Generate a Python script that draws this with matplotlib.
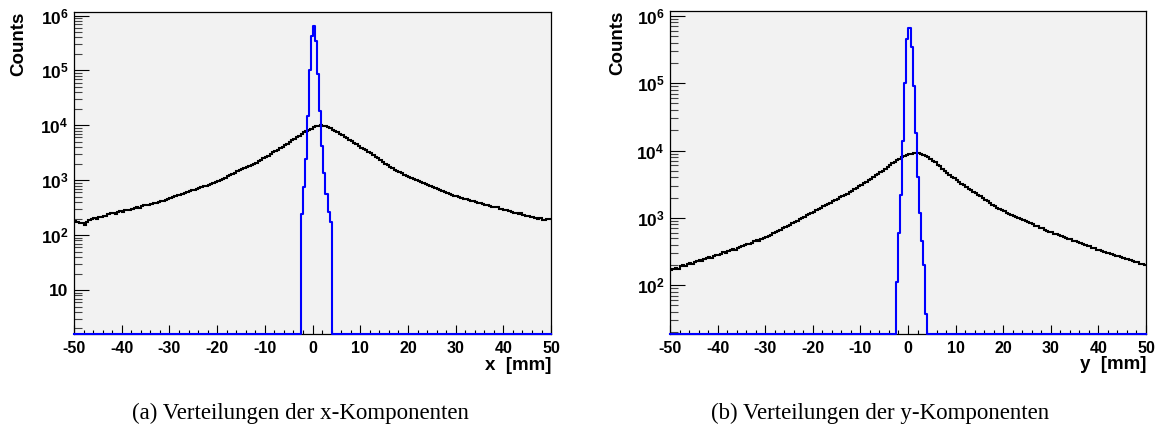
import numpy as np
import matplotlib
matplotlib.use('Agg')
import matplotlib.pyplot as plt
from matplotlib.ticker import FixedLocator, FixedFormatter, MultipleLocator, NullFormatter

plt.rcParams['font.family'] = ['Liberation Sans', 'DejaVu Sans']
plt.rcParams['font.weight'] = 'bold'
plt.rcParams['axes.unicode_minus'] = False
plt.rcParams['mathtext.fontset'] = 'custom'
plt.rcParams['mathtext.bf'] = 'Liberation Sans:bold'
plt.rcParams['mathtext.rm'] = 'Liberation Sans:bold'

# breite Verteilung (0.5 mm Bins, -50 ... 50 mm)
x_breit = [
    178, 172, 168, 163, 152, 170, 188, 196, 204, 200,
    212, 218, 226, 222, 240, 248, 252, 246, 262, 270,
    268, 282, 290, 286, 300, 312, 320, 318, 338, 350,
    356, 348, 372, 380, 392, 398, 410, 422, 440, 455,
    475, 490, 512, 530, 548, 560, 585, 600, 625, 650,
    675, 690, 725, 740, 775, 795, 830, 860, 905, 940,
    975, 1020, 1065, 1120, 1180, 1240, 1310, 1380, 1450, 1510,
    1580, 1650, 1730, 1810, 1900, 2000, 2100, 2220, 2350, 2500,
    2650, 2820, 3000, 3200, 3400, 3620, 3850, 4100, 4350, 4650,
    4950, 5300, 5700, 6100, 6500, 6950, 7400, 7850, 8300, 8750,
    9200, 9550, 9850, 9950, 9900, 9750, 9300, 8800, 8300, 7900,
    7500, 7050, 6600, 6200, 5800, 5500, 5200, 4850, 4500, 4200,
    3900, 3700, 3500, 3300, 3150, 2900, 2700, 2500, 2300, 2150,
    2000, 1870, 1750, 1650, 1550, 1470, 1400, 1330, 1270, 1210,
    1160, 1110, 1060, 1010, 970, 930, 890, 855, 820, 785,
    750, 720, 690, 660, 630, 600, 580, 565, 545, 525,
    510, 495, 480, 460, 450, 440, 425, 410, 400, 390,
    380, 370, 360, 352, 345, 330, 322, 332, 305, 300,
    290, 282, 270, 265, 258, 250, 238, 248, 232, 225,
    220, 214, 210, 205, 196, 208, 192, 188, 200, 195,
]
y_breit = [
    168, 176, 183, 175, 190, 197, 192, 205, 212, 206,
    220, 226, 233, 227, 243, 250, 259, 253, 270, 278,
    285, 293, 306, 299, 318, 331, 342, 336, 362, 372,
    383, 396, 410, 403, 430, 446, 462, 455, 488, 505,
    520, 546, 565, 588, 612, 640, 668, 700, 730, 762,
    790, 830, 870, 910, 955, 1000, 1045, 1090, 1140, 1190,
    1240, 1290, 1350, 1410, 1480, 1550, 1620, 1690, 1760, 1840,
    1920, 2010, 2100, 2200, 2300, 2420, 2540, 2660, 2790, 2930,
    3080, 3260, 3440, 3630, 3830, 4040, 4260, 4500, 4760, 5040,
    5350, 5700, 6050, 6450, 6850, 7200, 7600, 7950, 8300, 8600,
    8800, 9000, 9150, 9200, 9150, 8950, 8650, 8300, 7900, 7500,
    7050, 6650, 6200, 5800, 5400, 5000, 4650, 4350, 4080, 3850,
    3620, 3420, 3220, 3030, 2860, 2700, 2560, 2430, 2310, 2200,
    2090, 1975, 1865, 1760, 1665, 1575, 1495, 1420, 1355, 1300,
    1250, 1200, 1150, 1115, 1070, 1030, 995, 950, 925, 890,
    865, 830, 805, 770, 750, 715, 695, 665, 645, 620,
    610, 585, 572, 552, 545, 518, 505, 488, 480, 458,
    452, 438, 428, 408, 402, 383, 378, 360, 353, 336,
    332, 320, 315, 302, 298, 287, 282, 270, 270, 258,
    256, 246, 242, 233, 230, 220, 218, 207, 207, 198,
]
# schmale Verteilung (15 Bins zwischen -2.5 und 4.0 mm)
x_schmal = [240, 740, 2400, 14500, 1.0e5, 4.3e5, 6.5e5, 3.4e5, 8.7e4, 1.8e4,
            4200, 1350, 560, 265, 175]
y_schmal = [110, 600, 2200, 14000, 1.0e5, 4.5e5, 6.5e5, 3.5e5, 9.0e4, 1.8e4,
            4000, 1200, 450, 200, 37]

fig = plt.figure(figsize=(11.57, 4.36), dpi=100)

panels = [
    dict(pos=[0.0640, 0.2335, 0.4123, 0.7400], breit=x_breit, schmal=x_schmal,
         ylim=(1.57, 1.18e6), dekaden=[1, 2, 3, 4, 5, 6], xlab='x  [mm]',
         ylab_x=-0.098, caption='(a) Verteilungen der x-Komponenten', cap_x=0.260),
    dict(pos=[0.5791, 0.2345, 0.4114, 0.7408], breit=y_breit, schmal=y_schmal,
         ylim=(19, 1.19e6), dekaden=[2, 3, 4, 5, 6], xlab='y  [mm]',
         ylab_x=-0.092, caption='(b) Verteilungen der y-Komponenten', cap_x=0.761),
]

for p in panels:
    ax = fig.add_axes(p['pos'])
    ax.set_facecolor('#f2f2f2')
    ax.set_yscale('log')
    ax.set_xlim(-50, 50)
    ax.set_ylim(*p['ylim'])
    ymin = p['ylim'][0]

    kanten = np.linspace(-50, 50, len(p['breit']) + 1)
    ax.stairs(p['breit'], kanten, color='black', lw=1.5, baseline=None, zorder=3)

    sk = np.linspace(-2.5, 4.0, len(p['schmal']) + 1)
    xs = np.concatenate([[-50], sk, [50]])
    ys = np.concatenate([[ymin], p['schmal'], [ymin, ymin]])
    ax.step(xs, ys, where='post', color='#0000ff', lw=1.5, zorder=4, clip_on=False)

    # Achsen
    for s in ax.spines.values():
        s.set_linewidth(0.9)
        s.set_color('black')
    ax.xaxis.set_major_locator(MultipleLocator(10))
    ax.xaxis.set_minor_locator(MultipleLocator(2))
    ax.tick_params(axis='x', which='major', direction='in', length=6.3, width=0.8,
                   labelsize=11.5, pad=5, top=False)
    ax.tick_params(axis='x', which='minor', direction='in', length=3.1, width=0.8,
                   top=False)
    for t in ax.get_xticklabels():
        t.set_fontweight('bold')

    dek = p['dekaden']
    ax.yaxis.set_major_locator(FixedLocator([10.0 ** d for d in dek]))
    ax.yaxis.set_major_formatter(FixedFormatter(
        ['10' if d == 1 else r'$\mathbf{10^{%d}}$' % d for d in dek]))
    minors = [m * 10.0 ** d for d in range(0, 7) for m in range(2, 10)]
    ax.yaxis.set_minor_locator(FixedLocator(minors))
    ax.yaxis.set_minor_formatter(NullFormatter())
    ax.tick_params(axis='y', which='major', direction='in', length=10.8, width=0.8,
                   labelsize=12.5, pad=4, right=False)
    ax.tick_params(axis='y', which='minor', direction='in', length=5.4, width=0.8,
                   color='#444444', right=False)

    ax.set_xlabel(p['xlab'], fontsize=13.5, fontweight='bold', loc='right')
    ax.xaxis.set_label_coords(1.0, -0.07)
    ax.set_ylabel('Counts', fontsize=13.5, fontweight='bold', loc='top')
    ax.yaxis.set_label_coords(p['ylab_x'], 1.0)

    fig.text(p['cap_x'], 1 - 413 / 436, p['caption'], ha='center', va='center',
             family='Liberation Serif', fontsize=16.5, fontweight='normal')

fig.savefig('out.png', dpi=100)
